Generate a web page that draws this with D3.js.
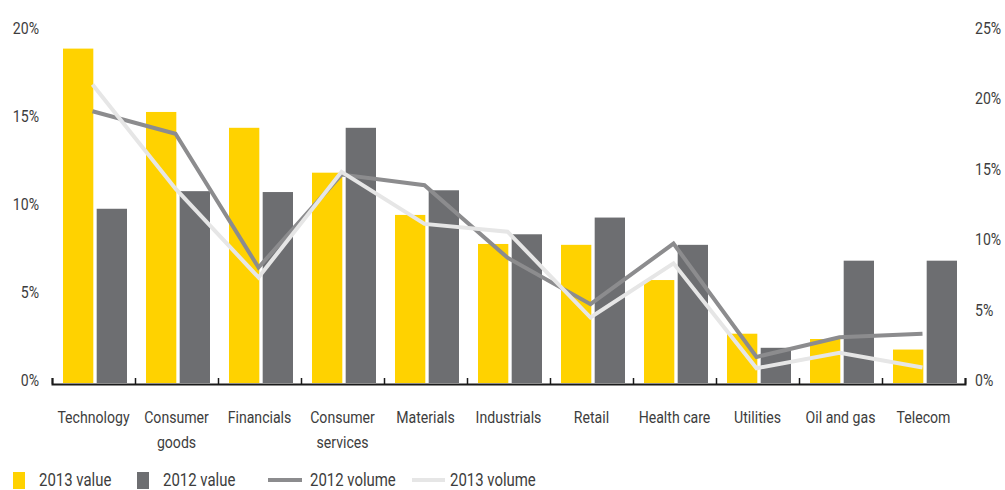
<!DOCTYPE html>
<html>
<head>
<meta charset="utf-8">
<script src="https://cdn.jsdelivr.net/npm/d3@7"></script>
<style>
  html, body { margin: 0; padding: 0; background: #fff; }
  svg { display: block; }
  text { font-family: "Liberation Sans Narrow", "Arial Narrow", "Roboto", sans-serif; fill: #3d3d3d; }
</style>
</head>
<body>
<svg id="chart" width="1005" height="490"></svg>
<script>
const categories = ["Technology", "Consumer goods", "Financials", "Consumer services", "Materials", "Industrials", "Retail", "Health care", "Utilities", "Oil and gas", "Telecom"];
const categoryLines = [["Technology"], ["Consumer", "goods"], ["Financials"], ["Consumer", "services"], ["Materials"], ["Industrials"], ["Retail"], ["Health care"], ["Utilities"], ["Oil and gas"], ["Telecom"]];
const value2013 = [19.0, 15.4, 14.5, 11.95, 9.55, 7.9, 7.85, 5.85, 2.8, 2.5, 1.9];
const value2012 = [9.9, 10.9, 10.85, 14.5, 10.95, 8.45, 9.4, 7.85, 2.0, 6.95, 6.95];
const volume2012 = [19.3, 17.7, 8.2, 14.8, 14.05, 8.9, 5.6, 9.9, 1.85, 3.25, 3.5];
const volume2013 = [21.2, 13.8, 7.5, 15.0, 11.3, 10.75, 4.65, 8.5, 1.05, 2.15, 1.1];
const leftTicks = [0, 5, 10, 15, 20];
const rightTicks = [0, 5, 10, 15, 20, 25];
const seriesNames = ["2013 value", "2012 value", "2012 volume", "2013 volume"];

const colors = { v2013: "#FFD200", v2012: "#6D6E71", vol2012: "#8C8C8E", vol2013: "#E6E6E6" };
const squeeze = "scale(0.83,1)";

const svg = d3.select("#chart");
const x = d3.scaleBand().domain(categories).range([52, 965]).padding(0);
const xi = d3.scaleLinear().domain([0, categories.length]).range([52, 965]);
const sub = d3.scaleBand().domain(["2013", "2012"]).range([11, 75]).paddingInner(0.1);
const yL = d3.scaleLinear().domain([0, 20]).range([383, 31]);
const yR = d3.scaleLinear().domain([0, 25]).range([383, 31]);

// bars
const g = svg.append("g");
g.selectAll("rect.b13").data(categories).join("rect")
  .attr("x", (d) => x(d) + sub("2013"))
  .attr("width", sub.bandwidth())
  .attr("y", (d, i) => yL(value2013[i]))
  .attr("height", (d, i) => yL(0) - yL(value2013[i]))
  .attr("fill", colors.v2013);
g.selectAll("rect.b12").data(categories).join("rect")
  .attr("x", (d) => x(d) + sub("2012"))
  .attr("width", sub.bandwidth())
  .attr("y", (d, i) => yL(value2012[i]))
  .attr("height", (d, i) => yL(0) - yL(value2012[i]))
  .attr("fill", colors.v2012);

// lines
const cx = (i) => x(categories[i]) + x.bandwidth() / 2 - 1;
const line = d3.line().x((d, i) => cx(i)).y((d) => yR(d));
svg.append("path").datum(volume2012).attr("d", line)
  .attr("fill", "none").attr("stroke", colors.vol2012).attr("stroke-width", 4).attr("stroke-linejoin", "miter");
svg.append("path").datum(volume2013).attr("d", line)
  .attr("fill", "none").attr("stroke", colors.vol2013).attr("stroke-width", 4).attr("stroke-linejoin", "miter");

// baseline axis with upward ticks
const ax = svg.append("g").attr("transform", "translate(0,384)")
  .call(d3.axisBottom(xi).tickValues(d3.range(0, categories.length + 1)).tickSize(-6).tickSizeOuter(-6).tickFormat(""));
ax.select(".domain").attr("stroke", "#1a1a1a").attr("stroke-width", 2);
ax.selectAll(".tick line").attr("stroke", "#1a1a1a").attr("stroke-width", 1.5);

// category labels
const lab = svg.append("g");
categories.forEach((c, i) => {
  const cg = lab.append("g").attr("transform", `translate(${x(c) + x.bandwidth() / 2},423)`);
  const t = cg.append("text")
    .attr("x", 0).attr("y", 0)
    .attr("text-anchor", "middle")
    .attr("font-size", 17)
    .attr("transform", squeeze);
  categoryLines[i].forEach((ln, j) => {
    t.append("tspan").attr("x", 0).attr("dy", j === 0 ? 0 : 25).text(ln);
  });
});

// left axis
const la = svg.append("g").attr("transform", "translate(39,-3)")
  .call(d3.axisLeft(yL).tickValues(leftTicks).tickSize(0).tickPadding(0).tickFormat((d) => d + "%"));
la.select(".domain").remove();
la.selectAll("text").attr("font-size", 17).attr("font-family", null).attr("transform", squeeze).style("fill", "#3d3d3d");

// right axis
const ra = svg.append("g").attr("transform", "translate(975,-3)")
  .call(d3.axisRight(yR).tickValues(rightTicks).tickSize(0).tickPadding(0).tickFormat((d) => d + "%"));
ra.select(".domain").remove();
ra.selectAll("text").attr("font-size", 17).attr("font-family", null).attr("transform", squeeze).style("fill", "#3d3d3d");

// legend
const lg = svg.append("g");
const ly = 480;
const legendText = (xx, s) => lg.append("g").attr("transform", `translate(${xx},${ly})`)
  .append("text").attr("x", 0).attr("y", 0).attr("dy", "0.35em").attr("font-size", 18).attr("transform", squeeze).text(s);
lg.append("rect").attr("x", 13).attr("y", 472).attr("width", 12).attr("height", 17).attr("fill", colors.v2013);
legendText(39, seriesNames[0]);
lg.append("rect").attr("x", 137).attr("y", 472).attr("width", 12).attr("height", 17).attr("fill", colors.v2012);
legendText(163, seriesNames[1]);
lg.append("line").attr("x1", 268).attr("x2", 302).attr("y1", ly).attr("y2", ly).attr("stroke", colors.vol2012).attr("stroke-width", 4);
legendText(310, seriesNames[2]);
lg.append("line").attr("x1", 412).attr("x2", 445).attr("y1", ly).attr("y2", ly).attr("stroke", colors.vol2013).attr("stroke-width", 4);
legendText(450, seriesNames[3]);
</script>
</body>
</html>
